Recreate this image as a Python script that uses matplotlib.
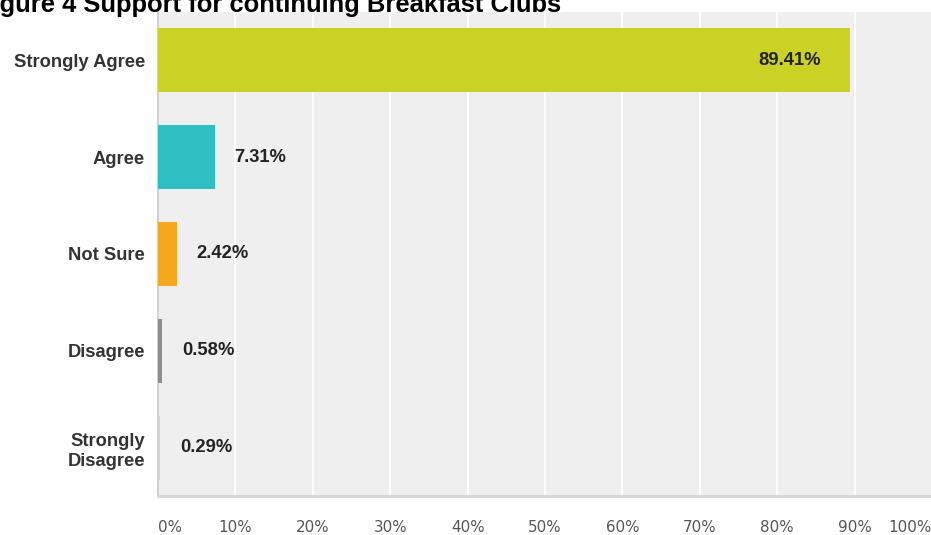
import matplotlib
matplotlib.use('Agg')
import matplotlib.pyplot as plt
from matplotlib.transforms import offset_copy

# survey responses
categories = ['Strongly Agree', 'Agree', 'Not Sure', 'Disagree', 'Strongly\nDisagree']
percentages = [89.41, 7.31, 2.42, 0.58, 0.29]
bar_colors = ['#cad226', '#2fbec2', '#f5a81c', '#8e8e8e', '#d2d2d2']
tick_values = [0, 10, 20, 30, 40, 50, 60, 70, 80, 90, 100]
tick_labels = ['{}%'.format(v) for v in tick_values]

title = 'Figure 4 Support for continuing Breakfast Clubs'

W, H = 931, 535
fig = plt.figure(figsize=(W / 100, H / 100), dpi=100)

# axes box in pixels: left 158, right 932, top 12, bottom 496
ax = fig.add_axes([158 / W, (H - 496) / H, (932 - 158) / W, (496 - 12) / H])
ax.set_facecolor('#efefef')

y = list(range(len(categories)))
ax.barh(y, percentages, height=0.66, color=bar_colors, zorder=3)

ax.set_xlim(0, 100)
ax.set_ylim(len(categories) - 0.5, -0.5)

ax.set_xticks(tick_values)
ax.set_xticklabels(tick_labels, fontsize=10.9, color='#555555', family='DejaVu Sans')
ax.tick_params(axis='x', length=0, pad=17)
ticks = ax.get_xticklabels()
ticks[0].set_horizontalalignment('left')
ticks[-1].set_horizontalalignment('right')

ax.set_yticks(y)
ax.set_yticklabels(categories, fontsize=13.2, fontweight='bold', color='#333333',
                   family='Liberation Sans', linespacing=1.3)
ax.tick_params(axis='y', length=0, pad=9.4)

ax.grid(axis='x', color='white', linewidth=1.4, zorder=1)
ax.grid(axis='y', visible=False)

for side in ['top', 'right']:
    ax.spines[side].set_visible(False)
ax.spines['left'].set_color('#c8c8c8')
ax.spines['left'].set_linewidth(1.2)
ax.spines['bottom'].set_color('#d6d6d6')
ax.spines['bottom'].set_linewidth(2)

# value labels: inside the long bar, to the right of the short ones
for i, v in enumerate(percentages):
    label = '{:.2f}%'.format(v)
    if v > 50:
        tr = offset_copy(ax.transData, fig=fig, x=-29, y=0, units='dots')
        ax.text(v, i, label, transform=tr, ha='right', va='center',
                fontsize=13.2, fontweight='bold', color='#222222',
                family='Liberation Sans', zorder=4)
    else:
        tr = offset_copy(ax.transData, fig=fig, x=20, y=0, units='dots')
        ax.text(v, i, label, transform=tr, ha='left', va='center',
                fontsize=13.2, fontweight='bold', color='#222222',
                family='Liberation Sans', zorder=4)

fig.text(-23 / W, (H - 12) / H, title, ha='left', va='baseline',
         fontsize=18.4, fontweight='bold', color='black', family='Liberation Sans')

fig.savefig('out.png', dpi=100, facecolor='white')
